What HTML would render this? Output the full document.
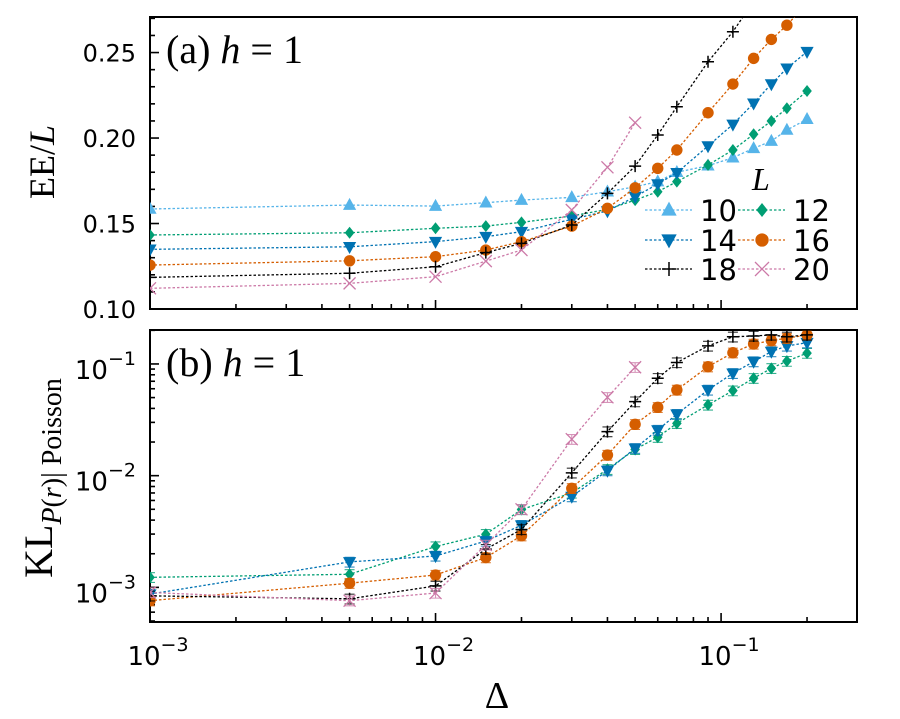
<!DOCTYPE html>
<html><head><meta charset="utf-8"><style>
body{margin:0;background:#fff;}
svg text{font-family:"DejaVu Sans","Liberation Sans",sans-serif;}
.serif{font-family:"Liberation Serif","DejaVu Serif",serif !important;}
</style></head><body>
<svg id="chart" width="900" height="714" viewBox="0 0 900 714" xmlns="http://www.w3.org/2000/svg">
<defs>
<clipPath id="clipTop"><rect x="150" y="17" width="707" height="292"/></clipPath>
<clipPath id="clipBot"><rect x="150" y="330" width="707" height="292"/></clipPath>
</defs>
<g id="axes"></g>
<g id="series"></g>
<text class="serif" x="166" y="63" font-size="40">(a) <tspan font-style="italic">h</tspan> = 1</text>
<text class="serif" x="166" y="376" font-size="40">(b) <tspan font-style="italic">h</tspan> = 1</text>
<text class="serif" font-size="36" transform="translate(54,162) rotate(-90)" text-anchor="middle">EE/<tspan font-style="italic">L</tspan></text>
<text class="serif" font-size="40" transform="translate(52,478) rotate(-90)" text-anchor="middle">KL<tspan font-size="28" dy="9" font-style="italic">P</tspan><tspan font-size="28">(</tspan><tspan font-size="28" font-style="italic">r</tspan><tspan font-size="28">)| Poisson</tspan></text>
<text class="serif" x="497" y="708" font-size="38" text-anchor="middle">Δ</text>
<g id="legend"></g>
</svg>
<script>
const xs = [0.001,0.005,0.01,0.015,0.02,0.03,0.04,0.05,0.06,0.07,0.09,0.11,0.13,0.15,0.17,0.2];
const Ls = [10,12,14,16,18,20];
const colors = ['#56B4E9','#009E73','#0072B2','#D55E00','#000000','#CC79A7'];
const markers = ['tri-up','diamond','tri-down','circle','plus','cross'];
const ee10 = [0.1585,0.1608,0.1602,0.1622,0.1637,0.1653,0.1686,0.1715,0.1745,0.1800,0.1838,0.1885,0.1940,0.1982,0.2047,0.2110];
const ee12 = [0.1433,0.1446,0.1472,0.1485,0.1507,0.1544,0.1583,0.1637,0.1686,0.1745,0.1842,0.1930,0.2022,0.2100,0.2174,0.2275];
const ee14 = [0.1349,0.1364,0.1394,0.1423,0.1452,0.1525,0.1573,0.1657,0.1731,0.1797,0.1953,0.2080,0.2203,0.2316,0.2408,0.2505];
const ee16 = [0.1257,0.1282,0.1306,0.1345,0.1394,0.1485,0.1589,0.1709,0.1823,0.1930,0.2148,0.2316,0.2466,0.2577,0.2660,0.2790];
const ee18 = [0.1185,0.1209,0.1247,0.1330,0.1384,0.1491,0.1676,0.1836,0.2018,0.2183,0.2446,0.2622,0.2800];
const ee20 = [0.1121,0.1150,0.1189,0.1280,0.1345,0.1579,0.1829,0.2090];
const kl10 = [];
const kl12 = [0.00123,0.00131,0.00232,0.00299,0.00498,0.0070,0.0114,0.0172,0.0221,0.0294,0.0430,0.0577,0.0745,0.0914,0.106,0.125];
const kl14 = [0.00087,0.00169,0.00191,0.0026,0.0036,0.0065,0.0111,0.0176,0.0256,0.0355,0.0585,0.0825,0.105,0.129,0.145,0.155];
const kl16 = [0.00076,0.00109,0.00129,0.00185,0.0029,0.0077,0.0153,0.0288,0.0409,0.0585,0.0946,0.126,0.151,0.162,0.170,0.182];
const kl18 = [0.00084,0.00079,0.00103,0.0022,0.0033,0.0106,0.0248,0.0460,0.0745,0.103,0.145,0.175,0.178,0.182,0.175,0.182];
const kl20 = [0.00090,0.00076,0.00089,0.0024,0.0050,0.0212,0.0503,0.0934];
const eeSeries = [ee10,ee12,ee14,ee16,ee18,ee20];
const klSeries = [kl10,kl12,kl14,kl16,kl18,kl20];
const yTicksTop = [0.10,0.15,0.20,0.25];
const yTickLabelsTop = ['0.10','0.15','0.20','0.25'];
const xTickExps = [-3,-2,-1];

const NS='http://www.w3.org/2000/svg';
const X0=150,X1=857,lxMin=-3,lxMax=-0.524;
const xS = v => X0 + (Math.log10(v)-lxMin)/(lxMax-lxMin)*(X1-X0);
const TY0=17,TY1=309,tyMin=0.10,tyMax=0.2708;
const yT = v => TY1 - (v-tyMin)/(tyMax-tyMin)*(TY1-TY0);
const BY0=330,BY1=622,byMin=-3.31,byMax=-0.696;
const yB = v => BY1 - (Math.log10(v)-byMin)/(byMax-byMin)*(BY1-BY0);

function mk(tag,attrs,parent){const e=document.createElementNS(NS,tag);for(const k in attrs)e.setAttribute(k,attrs[k]);parent.appendChild(e);return e;}
const axes=document.getElementById('axes');
const ser=document.getElementById('series');

function frame(y0,y1,name){
  const r=mk('rect',{x:X0,y:y0,width:X1-X0,height:y1-y0,fill:'none',stroke:'#000','stroke-width':2},axes);
  
  
  for(let e=-3;e<=-1;e++){for(let m=1;m<10;m++){const v=m*Math.pow(10,e);const x=xS(v);if(x>X1)continue;
    const len=m===1?9:5;
    const t=mk('line',{x1:x,x2:x,y1:y1,y2:y1-len,stroke:'#000','stroke-width':1.6},axes);
    
    
  }}
}
frame(TY0,TY1,'top-plot-area');
frame(BY0,BY1,'bottom-plot-area');
for(let i=0;i<=17;i++){const v=0.10+i*0.01;const y=yT(v);if(y<TY0)break;
  const major=i%5===0;
  const t=mk('line',{x1:X0,x2:X0+(major?9:5),y1:y,y2:y,stroke:'#000','stroke-width':1.6},axes);
  
  
}
yTicksTop.forEach((v,i)=>{const t=mk('text',{x:X0-14,y:yT(v)+9,'font-size':24,'text-anchor':'end'},axes);t.textContent=yTickLabelsTop[i];
  
  });
for(let e=-4;e<=-1;e++){for(let m=1;m<10;m++){const v=m*Math.pow(10,e);const y=yB(v);if(y<BY0||y>BY1)continue;
  const t=mk('line',{x1:X0,x2:X0+(m===1?9:5),y1:y,y2:y,stroke:'#000','stroke-width':1.6},axes);
  
  
}}
xTickExps.forEach(e=>{
  const y=yB(Math.pow(10,e));
  const t=mk('text',{x:X0-14,y:y+15,'font-size':26,'text-anchor':'end'},axes);
  t.innerHTML='10<tspan dy="-14" font-size="19">−'+(-e)+'</tspan>';
  
  
  const tx=mk('text',{x:xS(Math.pow(10,e))+8,y:665,'font-size':26,'text-anchor':'middle'},axes);
  tx.innerHTML='10<tspan dy="-14" font-size="19">−'+(-e)+'</tspan>';
  
  
});

function marker(type,x,y,c,parent,s){
  s=s||6;let el;
  if(type==='tri-up') el=mk('polygon',{points:`${x},${y-s*1.2} ${x-s*1.1},${y+s*0.8} ${x+s*1.1},${y+s*0.8}`,fill:c},parent);
  else if(type==='tri-down') el=mk('polygon',{points:`${x},${y+s*1.2} ${x-s*1.1},${y-s*0.8} ${x+s*1.1},${y-s*0.8}`,fill:c},parent);
  else if(type==='diamond') el=mk('polygon',{points:`${x},${y-s} ${x+s*0.8},${y} ${x},${y+s} ${x-s*0.8},${y}`,fill:c},parent);
  else if(type==='circle') el=mk('circle',{cx:x,cy:y,r:s*0.95,fill:c},parent);
  else if(type==='plus') el=mk('path',{d:`M${x-s} ${y}H${x+s}M${x} ${y-s}V${y+s}`,stroke:c,'stroke-width':1.5,fill:'none'},parent);
  else el=mk('path',{d:`M${x-s} ${y-s}L${x+s} ${y+s}M${x-s} ${y+s}L${x+s} ${y-s}`,stroke:c,'stroke-width':1.3,fill:'none'},parent);
  return el;
}
function drawSeries(vals,yf,clip,i,panel,logErr){
  if(!vals.length)return;
  const g=mk('g',{'clip-path':`url(#${clip})`},ser);
  
  
  const pts=vals.map((v,j)=>[xS(xs[j]),yf(v)]);
  const pl=mk('polyline',{points:pts.map(p=>p.join(',')).join(' '),fill:'none',stroke:colors[i],'stroke-width':1.3,'stroke-dasharray':'2.5,2'},g);
  
  
  vals.forEach((v,j)=>{
    if(logErr){const e=v*0.1;const x=pts[j][0];
      const eb=mk('path',{d:`M${x} ${yf(v+e)}V${yf(v-e)}M${x-5} ${yf(v+e)}H${x+5}M${x-5} ${yf(v-e)}H${x+5}`,stroke:colors[i],'stroke-width':1.1,fill:'none',opacity:0.8},g);
      
      }
    const m=marker(markers[i],pts[j][0],pts[j][1],colors[i],g);
    
    
  });
}
eeSeries.forEach((s,i)=>drawSeries(s,yT,'clipTop',i,'ee',false));
klSeries.forEach((s,i)=>drawSeries(s,yB,'clipBot',i,'kl',true));

const lg=document.getElementById('legend');
const lt=mk('text',{x:752,y:190,'font-size':32,'font-style':'italic'},lg);lt.setAttribute('class','serif');lt.textContent='L';


const rowsY=[210,240,269],colX=[645,738];
Ls.forEach((L,i)=>{
  const r=Math.floor(i/2),c=i%2;const x=colX[c],y=rowsY[r];
  const g=mk('g',{},lg);
  
  
  mk('line',{x1:x,x2:x+47,y1:y,y2:y,stroke:colors[i],'stroke-width':1.3,'stroke-dasharray':'2.5,2'},g);
  marker(markers[i],x+24,y,colors[i],g,7);
  const t=mk('text',{x:x+55,y:y+11,'font-size':29},g);t.textContent=String(L);
});
</script>
</body></html>
